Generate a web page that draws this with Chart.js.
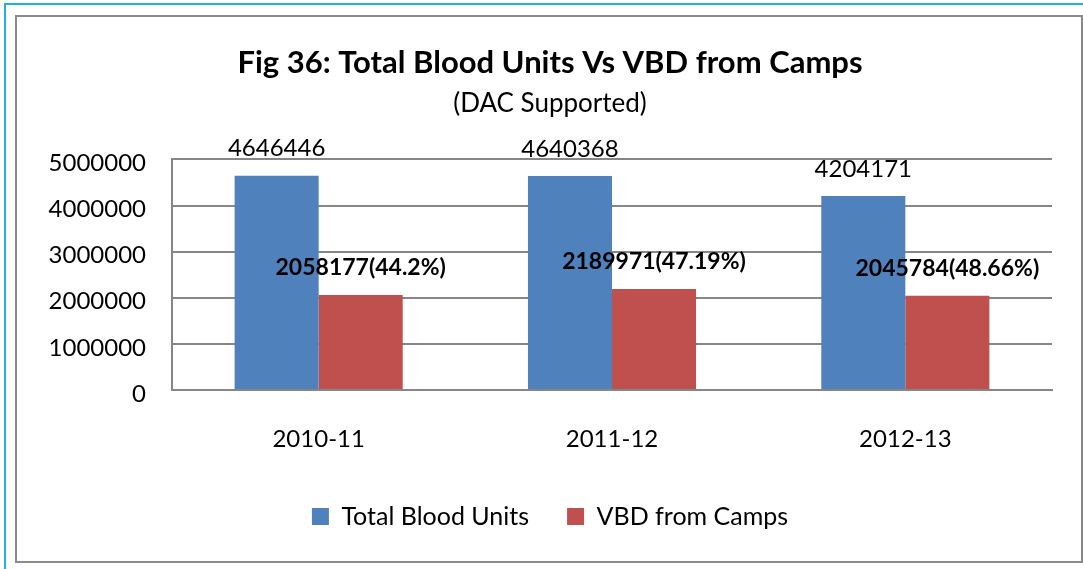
<!DOCTYPE html>
<html>
<head>
<meta charset="utf-8">
<title>Total Blood Units Vs VBD from Camps</title>
<script src="https://cdn.jsdelivr.net/npm/chart.js@4.4.1/dist/chart.umd.min.js"></script>
<style>
    html, body { margin: 0; padding: 0; background: #fff; overflow: hidden; }
    #frame {
        position: absolute; left: 4px; top: 3px; width: 2000px; height: 2000px;
        border-left: 2px solid #1cb3ec; border-top: 2px solid #1cb3ec;
    }
    #box {
        position: absolute; left: 15px; top: 15px; width: 1064px; height: 544px;
        border: 2px solid #8a8a8a; background: #fff;
    }
    #wrap { position: absolute; left: 0; top: 0; width: 1083px; height: 569px; }
</style>
</head>
<body>
<div id="frame"></div>
<div id="box"></div>
<div id="wrap"><canvas id="bloodChart" width="1083" height="569"></canvas></div>
<script>
const years = ['2010-11', '2011-12', '2012-13'];
const totalUnits = [4646446, 4640368, 4204171];
const campUnits = [2058177, 2189971, 2045784];
const campShare = ['44.2%', '47.19%', '48.66%'];
const yTicks = [0, 1000000, 2000000, 3000000, 4000000, 5000000];

const FONT = 'Lato, "Open Sans", sans-serif';

// value labels sit a fixed distance above each bar top
const barLabels = {
    id: 'barLabels',
    afterDatasetsDraw(chart) {
        const ctx = chart.ctx;
        ctx.save();
        ctx.fillStyle = '#000';
        ctx.textAlign = 'center';
        ctx.textBaseline = 'middle';
        chart.data.datasets.forEach((ds, i) => {
            const meta = chart.getDatasetMeta(i);
            meta.data.forEach((bar, j) => {
                let text;
                if (i === 0) {
                    ctx.font = '24px ' + FONT;
                    text = String(ds.data[j]);
                } else {
                    ctx.font = 'bold 23px ' + FONT;
                    text = ds.data[j] + '(' + campShare[j] + ')';
                }
                ctx.fillText(text, bar.x, bar.y - 27);
            });
        });
        ctx.restore();
    }
};

const ctx = document.getElementById('bloodChart').getContext('2d');
new Chart(ctx, {
    type: 'bar',
    data: {
        labels: years,
        datasets: [{
            label: 'Total Blood Units',
            data: totalUnits,
            backgroundColor: '#4f81bd',
            categoryPercentage: 0.573,
            barPercentage: 1
        }, {
            label: 'VBD from Camps',
            data: campUnits,
            backgroundColor: '#c0504d',
            categoryPercentage: 0.573,
            barPercentage: 1
        }]
    },
    options: {
        responsive: false,
        animation: false,
        layout: {
            padding: { left: 48, right: 31, top: 0, bottom: 30 }
        },
        plugins: {
            title: {
                display: true,
                text: 'Fig 36: Total Blood Units Vs VBD from Camps',
                color: '#000',
                font: { family: FONT, size: 31, weight: 'bold' },
                padding: { top: 44, bottom: 7 }
            },
            subtitle: {
                display: true,
                text: '(DAC Supported)',
                color: '#000',
                font: { family: FONT, size: 26 },
                padding: { top: 0, bottom: 40 }
            },
            legend: {
                position: 'bottom',
                labels: {
                    color: '#000',
                    font: { family: FONT, size: 25 },
                    boxWidth: 17,
                    boxHeight: 17,
                    padding: 38
                }
            },
            tooltip: { enabled: false }
        },
        scales: {
            x: {
                grid: { display: false, drawTicks: false },
                border: { color: '#868686', width: 2 },
                ticks: {
                    color: '#000',
                    font: { family: FONT, size: 24 },
                    padding: 35
                },
                afterFit: function (scale) { scale.height = 76; }
            },
            y: {
                min: 0,
                max: 5000000,
                afterBuildTicks: function (scale) {
                    scale.ticks = yTicks.map(v => ({ value: v }));
                },
                grid: { color: '#868686', lineWidth: 2, drawTicks: false },
                border: { color: '#868686', width: 2 },
                ticks: {
                    color: '#000',
                    font: { family: FONT, size: 24 },
                    padding: 26,
                    labelOffset: 4,
                    callback: v => String(v)
                },
                afterFit: function (scale) { scale.width = 124; }
            }
        }
    },
    plugins: [barLabels]
});
</script>
</body>
</html>
